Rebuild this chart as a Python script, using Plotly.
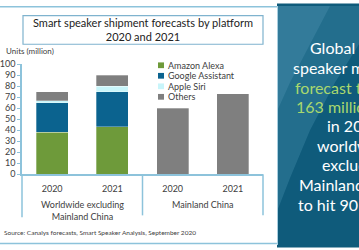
import plotly.graph_objects as go

W, H = 359, 250

groups = ["Worldwide excluding<br>Mainland China", "Worldwide excluding<br>Mainland China",
          "Mainland China", "Mainland China"]
years = ["2020", "2021", "2020", "2021"]
amazon = [38, 43, None, None]
google = [27, 32, None, None]
siri = [2, 5, None, None]
others = [8, 10, 60, 73]
series_names = ["Amazon Alexa", "Google Assistant", "Apple Siri", "Others"]
series_colors = ["#6E9A3A", "#0B638F", "#C8F5FA", "#7F7F7F"]
y_ticks = [0, 10, 20, 30, 40, 50, 60, 70, 80, 90, 100]

title_lines = ["Smart speaker shipment forecasts by platform", "2020 and 2021"]
panel_lines = [
    ("Global smart", 308, 43, "white"),
    ("speaker market", 291, 64, "white"),
    ("forecast to reach", 293, 85, "#A9D86E"),
    ("163 million units", 294, 105, "#A9D86E"),
    ("in 2021,", 325, 125, "white"),
    ("worldwide", 315, 146, "white"),
    ("excluding", 320, 166, "white"),
    ("Mainland China", 297, 187, "white"),
    ("to hit 90 million", 296, 208, "white"),
]

FONT = "Lato"
AX = "#8DC3DB"
TXT = "#404040"

def px(x):
    return x / W

def py(y):
    return 1 - y / H

cats = [g + " " + yr for g, yr in zip(groups, years)]

fig = go.Figure()
for name, vals, col in zip(series_names, [amazon, google, siri, others], series_colors):
    fig.add_trace(go.Bar(x=cats, y=vals, name=name, showlegend=False,
                         marker=dict(color=col, line=dict(width=0.6, color="rgba(255,255,255,0.5)"))))

fig.update_layout(
    width=W, height=H, margin=dict(l=0, r=0, t=0, b=0),
    paper_bgcolor="white", plot_bgcolor="white",
    barmode="stack", bargap=0.47,
    font=dict(family=FONT, color=TXT, size=9),
    showlegend=False,
    xaxis=dict(domain=[px(22), px(263)], showline=True, linecolor=AX, linewidth=1.5,
               tickvals=cats, ticktext=years, ticks="outside", ticklen=5,
               tickcolor="rgba(0,0,0,0)", showgrid=False,
               tickfont=dict(size=9, family=FONT, color=TXT)),
    yaxis=dict(domain=[py(176), py(61)], range=[0, 100], tickvals=y_ticks,
               showline=True, linecolor=AX, linewidth=1.5, ticks="outside",
               ticklen=3, tickcolor=AX, showgrid=False, zeroline=False,
               tickfont=dict(size=9, family=FONT, color=TXT)),
)

# group dividers and group labels (layout elements for the multi-level axis)
unique_groups = list(dict.fromkeys(groups))
n_cat = len(cats)
shapes = []
bounds = [0.0]
ann = []
start = 0
for g in unique_groups:
    cnt = groups.count(g)
    end = start + cnt
    bounds.append(end / n_cat)
    ann.append(dict(text=g, x=(start + end) / 2 / n_cat, xref="x domain", y=py(199.5), yref="paper",
                    xanchor="center", yanchor="top", showarrow=False,
                    font=dict(size=9, family=FONT, color=TXT)))
    start = end
for i, b in enumerate(bounds):
    shapes.append(dict(type="line", xref="x domain", yref="paper", x0=b, x1=b,
                       y0=py(176), y1=py(221 if i == 0 else 219), line=dict(color=AX, width=1.5)))

# legend drawn as compact swatches
leg_x, leg_y0, leg_dy = 158, 62, 11
for i, (name, col) in enumerate(zip(series_names, series_colors)):
    yc = leg_y0 + i * leg_dy
    shapes.append(dict(type="rect", xref="paper", yref="paper", x0=px(leg_x), x1=px(leg_x + 6),
                       y0=py(yc + 3), y1=py(yc - 3), line=dict(width=0), fillcolor=col))
    ann.append(dict(text=name, x=px(leg_x + 7.5), y=py(yc), xref="paper", yref="paper",
                    xanchor="left", yanchor="middle", showarrow=False,
                    font=dict(size=9, family=FONT, color=TXT)))

shapes += [
    # title box
    dict(type="rect", xref="paper", yref="paper", x0=px(23), x1=px(263), y0=py(40), y1=py(10),
         line=dict(color="#7FB3CE", width=1.2), fillcolor="rgba(0,0,0,0)"),
    # top and bottom frame lines
    dict(type="line", xref="paper", yref="paper", x0=0, x1=px(277), y0=py(0.8), y1=py(0.8),
         line=dict(color=AX, width=1.5)),
    dict(type="line", xref="paper", yref="paper", x0=0, x1=px(277), y0=py(248.5), y1=py(248.5),
         line=dict(color=AX, width=1.5)),
    # right panel
    dict(type="rect", xref="paper", yref="paper", x0=px(277), x1=1.01, y0=-0.01, y1=1.01,
         line=dict(width=0), fillcolor="#0F5B7B", layer="above"),
]
pts = [(277, 0), (359, 0), (359, 40), (335, 80), (310, 130), (290, 180), (277, 215)]
path = "M " + " L ".join(f"{px(x):.4f},{py(y):.4f}" for x, y in pts) + " Z"
shapes.append(dict(type="path", xref="paper", yref="paper", path=path, line=dict(width=0),
                   fillcolor="rgba(90,160,190,0.28)", layer="above"))
pts2 = [(277, 0), (330, 0), (310, 40), (290, 80), (277, 110)]
path2 = "M " + " L ".join(f"{px(x):.4f},{py(y):.4f}" for x, y in pts2) + " Z"
shapes.append(dict(type="path", xref="paper", yref="paper", path=path2, line=dict(width=0),
                   fillcolor="rgba(110,175,200,0.22)", layer="above"))
shapes.append(dict(type="line", xref="paper", yref="paper", x0=px(277.5), x1=px(277.5), y0=0, y1=1,
                   line=dict(color="#A9CFE0", width=1), layer="above"))
fig.update_layout(shapes=shapes)

ann += [
    dict(text=title_lines[0] + "<br>" + title_lines[1], x=px(143), y=py(25), xref="paper", yref="paper",
         xanchor="center", yanchor="middle", showarrow=False,
         font=dict(size=11, family=FONT, color="#222222")),
    dict(text="Units (million)", x=px(4), y=py(47), xref="paper", yref="paper",
         xanchor="left", yanchor="middle", showarrow=False, font=dict(size=8, family=FONT, color=TXT)),
    dict(text="Source: Canalys forecasts, Smart Speaker Analysis, September 2020", x=px(2), y=py(237),
         xref="paper", yref="paper", xanchor="left", yanchor="middle", showarrow=False,
         font=dict(size=6.5, family=FONT, color=TXT)),
]
for txt, x, y, col in panel_lines:
    ann.append(dict(text=txt, x=px(x), y=py(y), xref="paper", yref="paper", xanchor="left",
                    yanchor="middle", showarrow=False, font=dict(size=16, family=FONT, color=col)))
fig.update_layout(annotations=ann)

fig.write_html("out.html")
